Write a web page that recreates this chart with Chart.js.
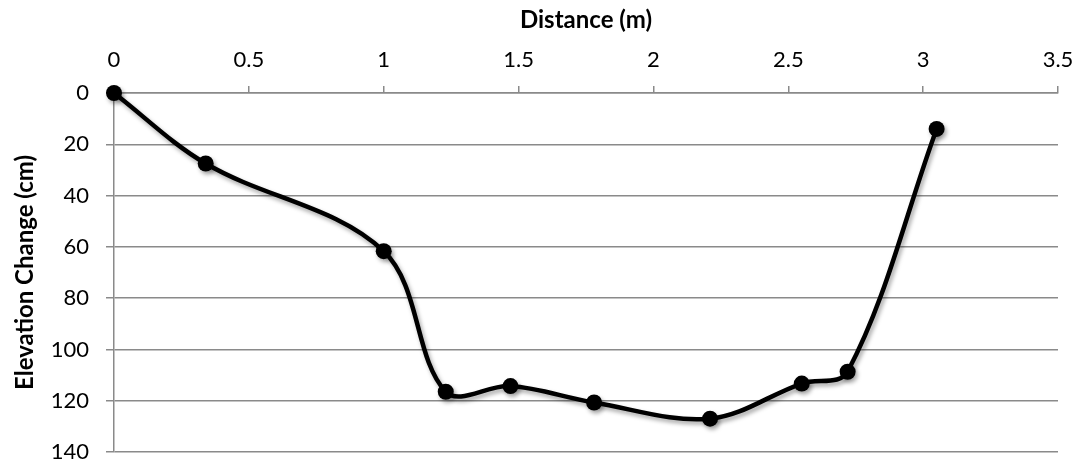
<!DOCTYPE html>
<html>
<head>
<meta charset="utf-8">
<script src="https://cdn.jsdelivr.net/npm/chart.js@4.4.1/dist/chart.umd.min.js"></script>
<style>
  html, body { margin: 0; padding: 0; background: #fff; }
  #wrap { width: 1086px; height: 466px; }
</style>
</head>
<body>
<div id="wrap"><canvas id="profileChart" width="1086" height="466"></canvas></div>
<script>
// Messpunkte (Distanz in m, Höhenänderung in cm)
const distances = [0, 0.34, 1.0, 1.23, 1.47, 1.78, 2.21, 2.55, 2.72, 3.05];
const elevations = [0, 27.5, 61.7, 116.5, 114.3, 120.7, 127.0, 113.3, 108.7, 14.0];

const xTicks = [0, 0.5, 1, 1.5, 2, 2.5, 3, 3.5];
const yTicks = [0, 20, 40, 60, 80, 100, 120, 140];

const gridGrey = "#8a8a8a";

// leichter Schatten wie in Excel
const shadowPlugin = {
    id: "shadow",
    beforeDatasetsDraw(chart) {
        const ctx = chart.ctx;
        ctx.save();
        ctx.shadowColor = "rgba(0,0,0,0.35)";
        ctx.shadowBlur = 4;
        ctx.shadowOffsetX = 2;
        ctx.shadowOffsetY = 3;
    },
    afterDatasetsDraw(chart) {
        chart.ctx.restore();
    }
};

const points = distances.map((d, i) => ({ x: d, y: elevations[i] }));

const ctx = document.getElementById("profileChart").getContext("2d");
new Chart(ctx, {
    type: "line",
    data: {
        datasets: [{
            data: points,
            borderColor: "#000",
            backgroundColor: "#000",
            borderWidth: 4.5,
            tension: 0.35,
            pointRadius: 8,
            pointBackgroundColor: "#000",
            pointBorderColor: "#000",
            pointBorderWidth: 0,
            fill: false,
            clip: false
        }]
    },
    options: {
        responsive: false,
        animation: false,
        layout: { padding: { left: 0, top: 0, right: 28, bottom: 14 } },
        plugins: {
            legend: { display: false },
            tooltip: { enabled: false }
        },
        scales: {
            x: {
                type: "linear",
                position: "top",
                min: 0,
                max: 3.5,
                afterBuildTicks: scale => { scale.ticks = xTicks.map(v => ({ value: v })); },
                afterFit: scale => {
                    scale.height = 93;
                    scale.paddingLeft = 0;
                    scale.paddingRight = 0;
                },
                ticks: {
                    color: "#000",
                    font: { family: "Lato", size: 22 },
                    padding: 13,
                    maxRotation: 0,
                    callback: v => String(v)
                },
                grid: { drawOnChartArea: false, drawTicks: true, tickLength: 7, color: gridGrey, lineWidth: 1.5 },
                border: { color: gridGrey, width: 1.5 },
                title: {
                    display: true,
                    text: "Distance (m)",
                    color: "#000",
                    font: { family: "Lato", size: 24, weight: "bold" },
                    padding: { top: 6, bottom: 0 }
                }
            },
            y: {
                type: "linear",
                reverse: true,
                min: 0,
                max: 140,
                afterBuildTicks: scale => { scale.ticks = yTicks.map(v => ({ value: v })); },
                afterFit: scale => {
                    scale.width = 114;
                    scale.paddingTop = 0;
                    scale.paddingBottom = 0;
                },
                ticks: {
                    color: "#000",
                    font: { family: "Lato", size: 22 },
                    padding: 17
                },
                grid: { color: gridGrey, lineWidth: 1.5, tickLength: 8 },
                border: { color: gridGrey, width: 1.5 },
                title: {
                    display: true,
                    text: "Elevation Change (cm)",
                    color: "#000",
                    font: { family: "Lato", size: 24, weight: "bold" },
                    padding: { top: 11, bottom: 0 }
                }
            }
        }
    },
    plugins: [shadowPlugin]
});
</script>
</body>
</html>
